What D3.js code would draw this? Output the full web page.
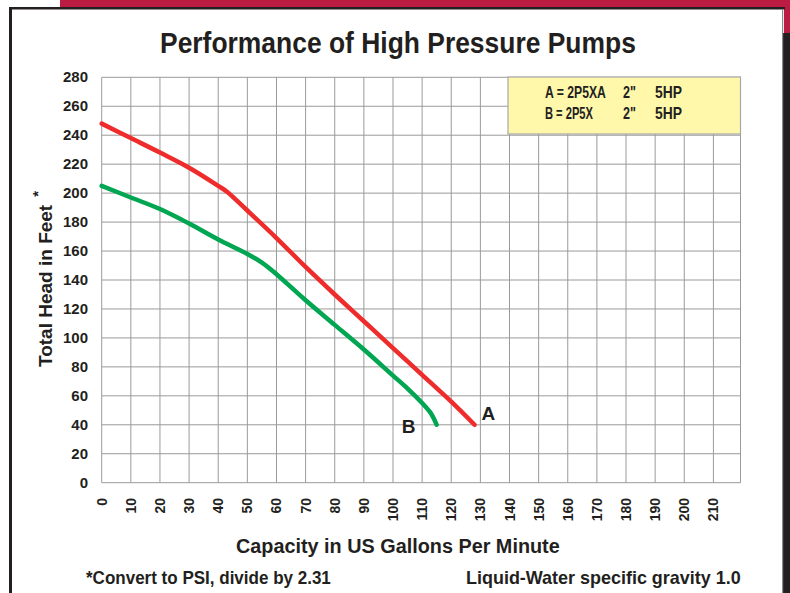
<!DOCTYPE html>
<html lang="en">
<head>
<meta charset="utf-8">
<title>Performance of High Pressure Pumps</title>
<script src="https://cdnjs.cloudflare.com/ajax/libs/d3/7.8.5/d3.min.js"></script>
<style>
  body { margin: 0; background: #fff; }
  svg text { font-family: "Liberation Sans Narrow", "Arial Narrow", "Liberation Sans", Arial, sans-serif; font-weight: bold; fill: #231f20; }
  .grid line { stroke: #9a9a9a; stroke-width: 1px; }
  .curve { fill: none; stroke-width: 4.5px; stroke-linecap: round; stroke-linejoin: round; }
</style>
</head>
<body>
<script>
// curve A (2P5XA) and curve B (2P5X), gpm vs total head (ft)
var pumpA = [[0,248],[10,238],[20,228],[30,217.5],[40,205],[43,201],[50,188],[60,169],[70,149],[80,130],[90,111.5],[100,93],[110,74.5],[120,56],[128,40]];
var pumpB = [[0,205],[10,197],[20,189],[30,179],[40,168],[50,158],[55,152],[60,144],[70,126],[80,109],[90,92],[100,74],[105,65],[110,55],[113,48],[115,40]];

var xTicks = d3.range(0, 211, 10);
var yTicks = d3.range(0, 281, 20);
var legendRows = [["A = 2P5XA", "2\"", "5HP"], ["B = 2P5X", "2\"", "5HP"]];

var W = 790, H = 593;
var svg = d3.select("body").append("svg")
    .attr("width", W)
    .attr("height", H);

// page frame
svg.append("rect").attr("x", 60).attr("y", 0).attr("width", 730).attr("height", 7.5).attr("fill", "#bc1c41");
svg.append("rect").attr("x", 784).attr("y", 0).attr("width", 6).attr("height", 33).attr("fill", "#bc1c41");
svg.append("rect").attr("x", 783).attr("y", 33).attr("width", 7).attr("height", H - 33).attr("fill", "#231f20");
svg.append("rect").attr("x", 9).attr("y", 7).attr("width", 776).attr("height", 2.5).attr("fill", "#231f20");
svg.append("rect").attr("x", 9).attr("y", 7).attr("width", 3).attr("height", H - 7).attr("fill", "#231f20");
svg.append("rect").attr("x", 782).attr("y", 9.5).attr("width", 1.2).attr("height", H).attr("fill", "#8a8a8a");

// scales
var x = d3.scaleLinear().domain([0, 219.3]).range([101.7, 740.5]);
var y = d3.scaleLinear().domain([0, 280]).range([482.7, 77.3]);

// grid
var grid = svg.append("g").attr("class", "grid");
grid.selectAll(".vx").data(xTicks.concat([219.3])).enter().append("line")
    .attr("x1", function(d) { return x(d); }).attr("x2", function(d) { return x(d); })
    .attr("y1", y(0)).attr("y2", y(280));
grid.selectAll(".hy").data(yTicks).enter().append("line")
    .attr("x1", x(0)).attr("x2", x(219.3))
    .attr("y1", function(d) { return y(d); }).attr("y2", function(d) { return y(d); });

// y tick labels
svg.append("g").selectAll("text").data(yTicks).enter().append("text")
    .attr("x", 88).attr("y", function(d) { return y(d) + 5; })
    .attr("text-anchor", "end")
    .style("font-size", "15px")
    .text(function(d) { return d; });

// x tick labels (rotated)
svg.append("g").selectAll("text").data(xTicks).enter().append("text")
    .attr("transform", function(d) { return "translate(" + (x(d) + 5) + ",498) rotate(-90)"; })
    .attr("text-anchor", "end")
    .style("font-size", "14px")
    .text(function(d) { return d; });

// squeeze a left-anchored text horizontally to a given width (condensed look)
function squeeze(px, py, size, str, len) {
  var t = svg.append("text").style("font-size", size + "px").text(str);
  var w = t.node().getComputedTextLength();
  t.attr("transform", "translate(" + px + "," + py + ") scale(" + (len / w) + ",1)");
  return t;
}

// legend box
svg.append("rect").attr("x", 508).attr("y", 77).attr("width", 232.5).attr("height", 57)
    .attr("fill", "#fff7aa").attr("stroke", "#a8a8a8").attr("stroke-width", 1.2);
legendRows.forEach(function(r, i) {
  var yy = 97.5 + i * 21.5;
  squeeze(545, yy, 16, r[0], i === 0 ? 61 : 48);
  squeeze(623, yy, 16, r[1], 13);
  squeeze(655, yy, 16, r[2], 27);
});

// curves
var line = d3.line()
    .x(function(d) { return x(d[0]); })
    .y(function(d) { return y(d[1]); })
    .curve(d3.curveCatmullRom.alpha(0.5));

svg.append("path").datum(pumpB).attr("class", "curve").attr("stroke", "#00a651").attr("d", line);
svg.append("path").datum(pumpA).attr("class", "curve").attr("stroke", "#ee2c2c").attr("d", line);

// curve labels
var lastA = pumpA[pumpA.length - 1], lastB = pumpB[pumpB.length - 1];
svg.append("text").attr("x", x(lastA[0]) + 7).attr("y", y(lastA[1]) - 5)
    .style("font-size", "19px").text("A");
svg.append("text").attr("x", x(lastB[0]) - 35).attr("y", y(lastB[1]) + 8)
    .style("font-size", "19px").text("B");

// titles
squeeze(160, 53, 30, "Performance of High Pressure Pumps", 476);

var yt = svg.append("text").attr("transform", "translate(52,279) rotate(-90)")
    .attr("text-anchor", "middle").style("font-size", "19px");
yt.append("tspan").text("Total Head in Feet");
yt.append("tspan").attr("dx", 8).attr("dy", -9).style("font-size", "15px").text("*");

squeeze(236, 553, 21, "Capacity in US Gallons Per Minute", 324);
squeeze(86, 584, 17.5, "*Convert to PSI, divide by 2.31", 245);
squeeze(466, 584, 17.5, "Liquid-Water specific gravity 1.0", 275);
</script>
</body>
</html>
